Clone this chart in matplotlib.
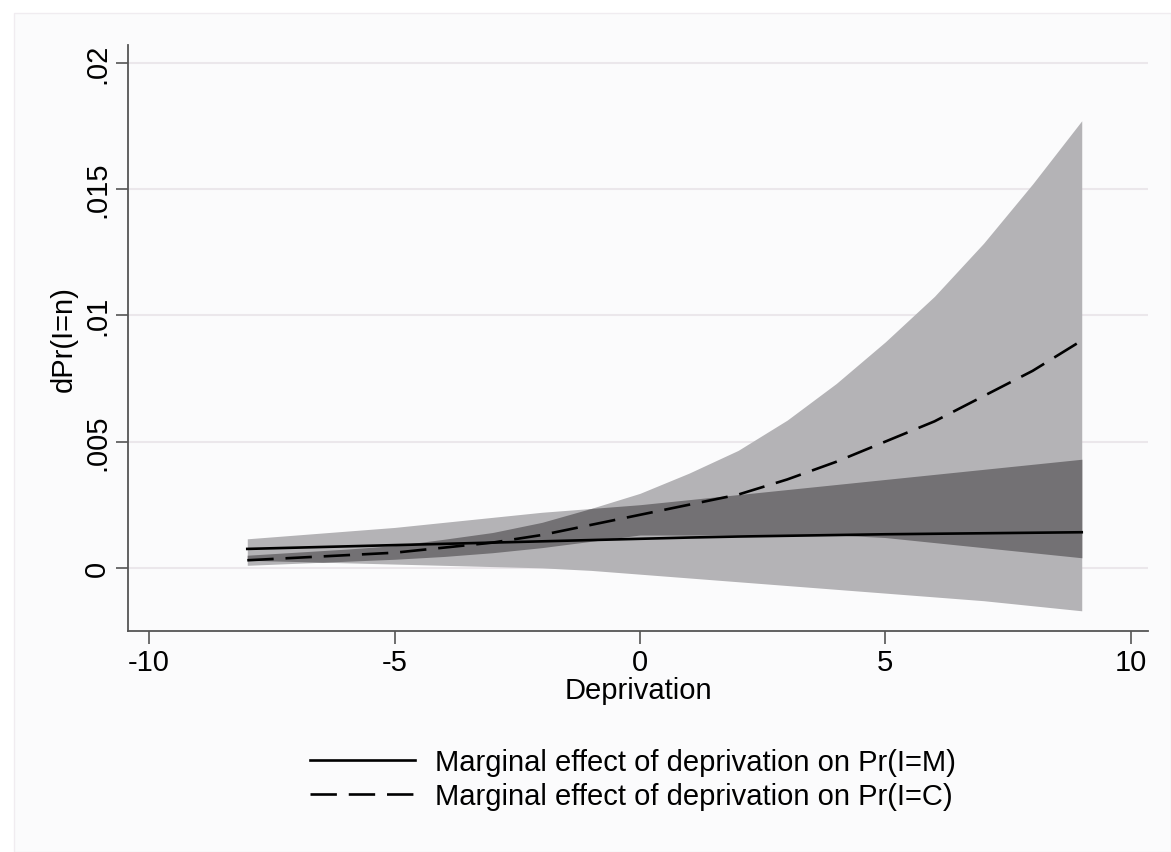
import numpy as np
import matplotlib
matplotlib.use('Agg')
import matplotlib.pyplot as plt
from matplotlib.lines import Line2D
from matplotlib.patches import Rectangle

plt.rcParams['font.family'] = ['Liberation Sans', 'DejaVu Sans']

# Deprivation grid and marginal effects
dep = [-8, -7, -6, -5, -4, -3, -2, -1, 0, 1, 2, 3, 4, 5, 6, 7, 8, 9]

me_m = [0.00075, 0.00080, 0.00085, 0.00090, 0.00095, 0.00100, 0.00105, 0.00110, 0.00115,
        0.00120, 0.00124, 0.00127, 0.00130, 0.00133, 0.00135, 0.00137, 0.00139, 0.00141]
me_m_lo = [0.00030, 0.00025, 0.00020, 0.00015, 0.00010, 0.00005, 0.00000, -0.00010, -0.00025,
           -0.00040, -0.00055, -0.00070, -0.00085, -0.00100, -0.00115, -0.00130, -0.00150, -0.00170]
me_m_hi = [0.00115, 0.00130, 0.00145, 0.00160, 0.00180, 0.00200, 0.00220, 0.00235, 0.00250,
           0.00270, 0.00290, 0.00310, 0.00330, 0.00350, 0.00370, 0.00390, 0.00410, 0.00430]

me_c = [0.00030, 0.00040, 0.00050, 0.00060, 0.00080, 0.00100, 0.00130, 0.00170, 0.00210,
        0.00250, 0.00290, 0.00350, 0.00420, 0.00500, 0.00580, 0.00680, 0.00780, 0.00900]
me_c_lo = [0.00010, 0.00018, 0.00026, 0.00034, 0.00045, 0.00060, 0.00080, 0.00105, 0.00130,
           0.00130, 0.00130, 0.00130, 0.00130, 0.00120, 0.00100, 0.00080, 0.00060, 0.00040]
me_c_hi = [0.00050, 0.00062, 0.00074, 0.00088, 0.00113, 0.00140, 0.00180, 0.00235, 0.00295,
           0.00375, 0.00465, 0.00585, 0.00730, 0.00895, 0.01075, 0.01285, 0.01520, 0.01770]

ytick_vals = [0, 0.005, 0.01, 0.015, 0.02]
ytick_labels = ['0', '.005', '.01', '.015', '.02']
xtick_vals = [-10, -5, 0, 5, 10]
xtick_labels = ['-10', '-5', '0', '5', '10']

light = '#b4b3b6'
dark = '#737174'

fig = plt.figure(figsize=(11.71, 8.53), dpi=100)
fig.patch.set_facecolor('white')
fig.patches.append(Rectangle((14 / 1171, 0), 1 - 14 / 1171, 1 - 14 / 853,
                             transform=fig.transFigure, facecolor='#fbfbfc',
                             edgecolor='#f0ecf0', lw=1, zorder=-10))

ax = fig.add_axes([128 / 1171, 1 - 632 / 853, (1148 - 128) / 1171, (632 - 46) / 853])
ax.set_facecolor('#fbfbfc')

# confidence bands; where they overlap the area is darker
ax.fill_between(dep, me_m_lo, me_m_hi, color=light, lw=0, zorder=2)
ax.fill_between(dep, me_c_lo, me_c_hi, color=light, lw=0, zorder=2)
xf = np.linspace(dep[0], dep[-1], 400)
ov_lo = np.maximum(np.interp(xf, dep, me_m_lo), np.interp(xf, dep, me_c_lo))
ov_hi = np.minimum(np.interp(xf, dep, me_m_hi), np.interp(xf, dep, me_c_hi))
ax.fill_between(xf, ov_lo, ov_hi, where=ov_hi > ov_lo, color=dark, lw=0, zorder=3)

ax.plot(dep, me_m, color='black', lw=1.9, zorder=4)
ax.plot(dep, me_c, color='black', lw=1.9, linestyle=(0, (10, 4.5)), zorder=4)

ax.set_xlim(-10.43, 10.35)
ax.set_ylim(-0.0025, 0.0207)
ax.set_xticks(xtick_vals)
ax.set_xticklabels(xtick_labels)
ax.set_yticks(ytick_vals)
ax.set_yticklabels(ytick_labels, rotation=90, va='center')
ax.grid(axis='y', color='#ebe7eb', lw=1.5, zorder=1)
ax.set_axisbelow(True)

for s in ['top', 'right']:
    ax.spines[s].set_visible(False)
for s in ['left', 'bottom']:
    ax.spines[s].set_color('#555555')
    ax.spines[s].set_linewidth(1.3)
ax.tick_params(axis='both', length=9, width=1.2, color='#555555', labelsize=21, pad=3)

ax.set_xlabel('Deprivation', fontsize=21, labelpad=0)
ax.set_ylabel('dPr(I=n)', fontsize=21, labelpad=4)

handles = [Line2D([], [], color='black', lw=1.9),
           Line2D([], [], color='black', lw=1.9, linestyle=(0, (10, 4.5)))]
labels = ['Marginal effect of deprivation on Pr(I=M)',
          'Marginal effect of deprivation on Pr(I=C)']
fig.legend(handles, labels, loc='center', bbox_to_anchor=(633 / 1171, 1 - 780 / 853),
           frameon=False, fontsize=21, handlelength=3.6, handletextpad=0.7,
           labelspacing=0.22)

fig.savefig('out.png', dpi=100, facecolor=fig.get_facecolor())
